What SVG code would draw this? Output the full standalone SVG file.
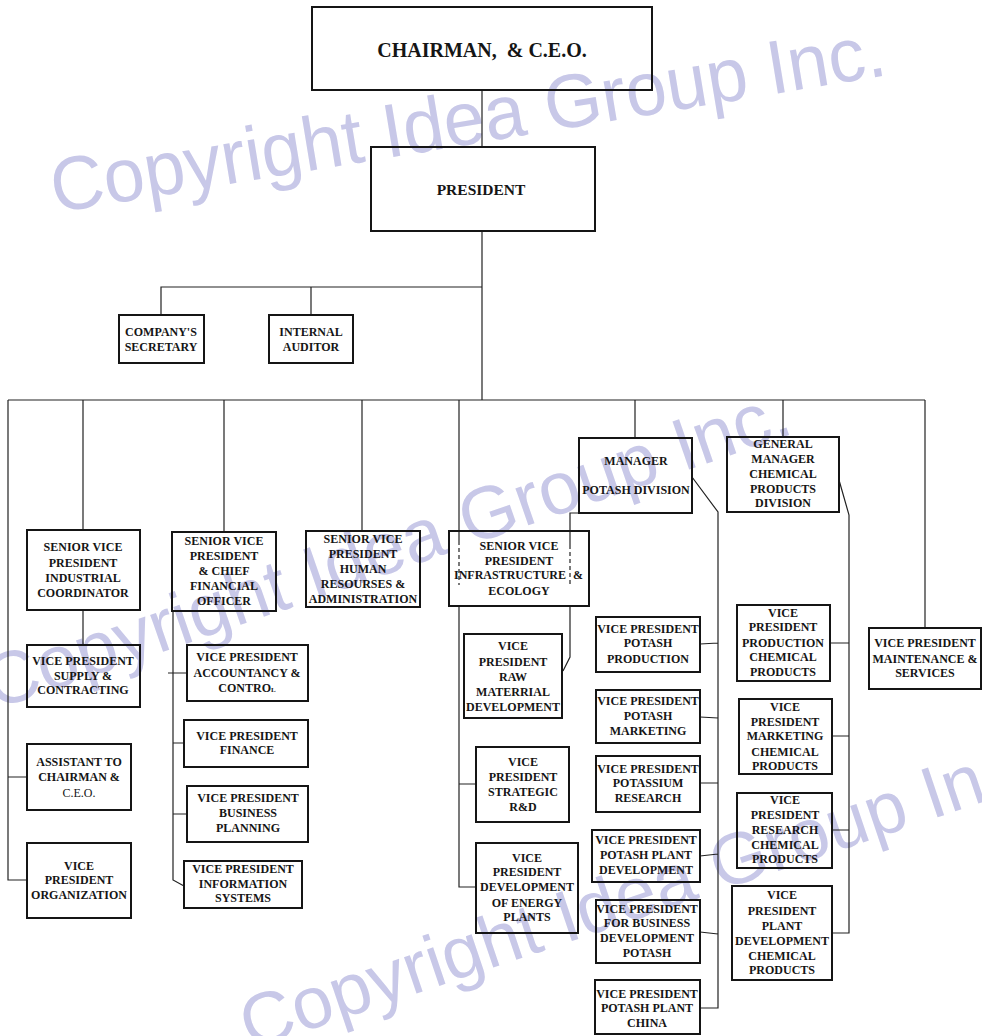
<svg xmlns="http://www.w3.org/2000/svg" width="982" height="1036" viewBox="0 0 982 1036">
<style>
.box{fill:none;stroke:#151515;stroke-width:2}
.ln{fill:none;stroke:#222;stroke-width:1.2}
.dash{stroke-dasharray:4 3}
.t{font-family:"Liberation Serif","Times New Roman",serif;font-weight:bold;font-size:12px;fill:#151515;text-anchor:middle}
.big{font-size:20px}
.mid{font-size:15.5px}
.wm{font-family:"Liberation Sans",Arial,sans-serif;fill:#c8c8e8}
</style>
<rect width="982" height="1036" fill="#fff"/>
<g id="watermark">
<text class="wm" x="55" y="213" font-size="76" textLength="845" lengthAdjust="spacingAndGlyphs" transform="rotate(-9.4 55 213)">Copyright Idea Group Inc.</text>
<text class="wm" x="-5" y="710" font-size="74" textLength="847" lengthAdjust="spacingAndGlyphs" transform="rotate(-19.1 -5 710)">Copyright Idea Group Inc.</text>
<text class="wm" x="250" y="1050" font-size="73" textLength="837" lengthAdjust="spacingAndGlyphs" transform="rotate(-18.7 250 1050)">Copyright Idea Group Inc.</text>
</g>
<g id="connectors">
<path class="ln" d="M482 90V147M482 231V400M161 315V287H482M311 287V315"/>
<path class="ln" d="M8 400H925M8 400V880H27M8 777H27M83 400V530M83 610V645"/>
<path class="ln" d="M224 400V532M173 611V880L184 886M168 673H187M173 743H184M173 814H187"/>
<path class="ln" d="M362 400V531"/>
<path class="ln" d="M459 400V541M459 606V887H476M459 784H476"/>
<path class="ln dash" d="M459 541V585M570 545V585"/>
<path class="ln" d="M580 513H570V545M570 606V657L563 671"/>
<path class="ln" d="M635 400V438M692 477L718 512V1008H700M700 644L718 643M700 717L718 718M700 783H718M700 856L718 854M700 932L718 934"/>
<path class="ln" d="M783 400V437M839 480L849 515V933H832M830 643H849M832 736H849M832 830H849"/>
<path class="ln" d="M925 400V628"/>
</g>
<g id="chairman"><rect class="box" x="312" y="7" width="340" height="83"/><text class="t big" x="482" y="57" xml:space="preserve">CHAIRMAN,  &amp; C.E.O.</text></g>
<g id="president"><rect class="box" x="371" y="147" width="224" height="84"/><text class="t mid" x="481" y="195">PRESIDENT</text></g>
<g id="secretary"><rect class="box" x="119" y="315" width="85" height="48"/><text class="t"><tspan x="161" y="336">COMPANY'S</tspan><tspan x="161" y="351">SECRETARY</tspan></text></g>
<g id="auditor"><rect class="box" x="269" y="315" width="84" height="48"/><text class="t"><tspan x="311" y="336">INTERNAL</tspan><tspan x="311" y="351">AUDITOR</tspan></text></g>
<g id="svp_industrial"><rect class="box" x="27" y="530" width="113" height="80"/><text class="t"><tspan x="83" y="551">SENIOR VICE</tspan><tspan x="83" y="567">PRESIDENT</tspan><tspan x="83" y="582">INDUSTRIAL</tspan><tspan x="83" y="597">COORDINATOR</tspan></text></g>
<g id="svp_cfo"><rect class="box" x="172" y="532" width="104" height="79"/><text class="t"><tspan x="224" y="545">SENIOR VICE</tspan><tspan x="224" y="560">PRESIDENT</tspan><tspan x="224" y="575">&amp; CHIEF</tspan><tspan x="224" y="590">FINANCIAL</tspan><tspan x="224" y="605">OFFICER</tspan></text></g>
<g id="svp_hr"><rect class="box" x="306" y="531" width="114" height="76"/><text class="t"><tspan x="363" y="543">SENIOR VICE</tspan><tspan x="363" y="558">PRESIDENT</tspan><tspan x="363" y="573">HUMAN</tspan><tspan x="363" y="588">RESOURSES &amp;</tspan><tspan x="363" y="603">ADMINISTRATION</tspan></text></g>
<g id="svp_infrastructure"><rect class="box" x="449" y="531" width="140" height="75"/><text class="t"><tspan x="519" y="550">SENIOR VICE</tspan><tspan x="519" y="565">PRESIDENT</tspan><tspan x="510" y="579">INFRASTRUCTURE</tspan><tspan x="519" y="595">ECOLOGY</tspan></text><text class="t" x="578" y="579">&amp;</text></g>
<g id="mgr_potash"><rect class="box" x="579" y="438" width="113" height="75"/><text class="t"><tspan x="636" y="465">MANAGER</tspan><tspan x="636" y="494">POTASH DIVISION</tspan></text></g>
<g id="gm_chemical"><rect class="box" x="727" y="437" width="112" height="75"/><text class="t"><tspan x="783" y="448">GENERAL</tspan><tspan x="783" y="463">MANAGER</tspan><tspan x="783" y="478">CHEMICAL</tspan><tspan x="783" y="493">PRODUCTS</tspan><tspan x="783" y="507">DIVISION</tspan></text></g>
<g id="vp_maintenance"><rect class="box" x="869" y="628" width="112" height="61"/><text class="t"><tspan x="925" y="647">VICE PRESIDENT</tspan><tspan x="925" y="663">MAINTENANCE &amp;</tspan><tspan x="925" y="677">SERVICES</tspan></text></g>
<g id="vp_supply"><rect class="box" x="27" y="645" width="113" height="62"/><text class="t"><tspan x="83" y="665">VICE PRESIDENT</tspan><tspan x="83" y="680">SUPPLY &amp;</tspan><tspan x="83" y="694">CONTRACTING</tspan></text></g>
<g id="assistant"><rect class="box" x="27" y="744" width="104" height="66"/><text class="t"><tspan x="79" y="766">ASSISTANT TO</tspan><tspan x="79" y="781">CHAIRMAN &amp;</tspan><tspan x="79" y="797" font-weight="normal">C.E.O.</tspan></text></g>
<g id="vp_organization"><rect class="box" x="27" y="843" width="104" height="75"/><text class="t"><tspan x="79" y="870">VICE</tspan><tspan x="79" y="884">PRESIDENT</tspan><tspan x="79" y="899">ORGANIZATION</tspan></text></g>
<g id="vp_accountancy"><rect class="box" x="187" y="645" width="121" height="56"/><text class="t"><tspan x="247" y="661">VICE PRESIDENT</tspan><tspan x="247" y="677">ACCOUNTANCY &amp;</tspan><tspan x="247" y="692">CONTRO<tspan style="font-size:7px">L</tspan></tspan></text></g>
<g id="vp_finance"><rect class="box" x="184" y="720" width="124" height="47"/><text class="t"><tspan x="247" y="740">VICE PRESIDENT</tspan><tspan x="247" y="754">FINANCE</tspan></text></g>
<g id="vp_business_planning"><rect class="box" x="187" y="786" width="121" height="56"/><text class="t"><tspan x="248" y="802">VICE PRESIDENT</tspan><tspan x="248" y="817">BUSINESS</tspan><tspan x="248" y="832">PLANNING</tspan></text></g>
<g id="vp_information"><rect class="box" x="184" y="861" width="118" height="47"/><text class="t"><tspan x="243" y="873">VICE PRESIDENT</tspan><tspan x="243" y="888">INFORMATION</tspan><tspan x="243" y="902">SYSTEMS</tspan></text></g>
<g id="vp_raw"><rect class="box" x="464" y="634" width="98" height="84"/><text class="t"><tspan x="513" y="650">VICE</tspan><tspan x="513" y="666">PRESIDENT</tspan><tspan x="513" y="681">RAW</tspan><tspan x="513" y="696">MATERRIAL</tspan><tspan x="513" y="711">DEVELOPMENT</tspan></text></g>
<g id="vp_strategic"><rect class="box" x="476" y="747" width="93" height="75"/><text class="t"><tspan x="523" y="766">VICE</tspan><tspan x="523" y="781">PRESIDENT</tspan><tspan x="523" y="796">STRATEGIC</tspan><tspan x="523" y="811">R&amp;D</tspan></text></g>
<g id="vp_energy"><rect class="box" x="476" y="843" width="102" height="90"/><text class="t"><tspan x="527" y="862">VICE</tspan><tspan x="527" y="876">PRESIDENT</tspan><tspan x="527" y="891">DEVELOPMENT</tspan><tspan x="527" y="907">OF ENERGY</tspan><tspan x="527" y="921">PLANTS</tspan></text></g>
<g id="vp_potash_production"><rect class="box" x="596" y="617" width="104" height="55"/><text class="t"><tspan x="648" y="633">VICE PRESIDENT</tspan><tspan x="648" y="647">POTASH</tspan><tspan x="648" y="663">PRODUCTION</tspan></text></g>
<g id="vp_potash_marketing"><rect class="box" x="596" y="690" width="104" height="53"/><text class="t"><tspan x="648" y="705">VICE PRESIDENT</tspan><tspan x="648" y="720">POTASH</tspan><tspan x="648" y="735">MARKETING</tspan></text></g>
<g id="vp_potassium_research"><rect class="box" x="596" y="756" width="104" height="56"/><text class="t"><tspan x="648" y="773">VICE PRESIDENT</tspan><tspan x="648" y="787">POTASSIUM</tspan><tspan x="648" y="802">RESEARCH</tspan></text></g>
<g id="vp_potash_plant_dev"><rect class="box" x="592" y="830" width="108" height="52"/><text class="t"><tspan x="646" y="844">VICE PRESIDENT</tspan><tspan x="646" y="859">POTASH PLANT</tspan><tspan x="646" y="874">DEVELOPMENT</tspan></text></g>
<g id="vp_business_dev"><rect class="box" x="596" y="900" width="104" height="63"/><text class="t"><tspan x="647" y="913">VICE PRESIDENT</tspan><tspan x="647" y="927">FOR BUSINESS</tspan><tspan x="647" y="942">DEVELOPMENT</tspan><tspan x="647" y="957">POTASH</tspan></text></g>
<g id="vp_china"><rect class="box" x="595" y="980" width="105" height="54"/><text class="t"><tspan x="647" y="998">VICE PRESIDENT</tspan><tspan x="647" y="1012">POTASH PLANT</tspan><tspan x="647" y="1027">CHINA</tspan></text></g>
<g id="vp_chem_production"><rect class="box" x="737" y="605" width="93" height="76"/><text class="t"><tspan x="783" y="617">VICE</tspan><tspan x="783" y="631">PRESIDENT</tspan><tspan x="783" y="647">PRODUCTION</tspan><tspan x="783" y="661">CHEMICAL</tspan><tspan x="783" y="676">PRODUCTS</tspan></text></g>
<g id="vp_chem_marketing"><rect class="box" x="739" y="699" width="93" height="75"/><text class="t"><tspan x="785" y="711">VICE</tspan><tspan x="785" y="726">PRESIDENT</tspan><tspan x="785" y="740">MARKETING</tspan><tspan x="785" y="756">CHEMICAL</tspan><tspan x="785" y="770">PRODUCTS</tspan></text></g>
<g id="vp_chem_research"><rect class="box" x="737" y="793" width="95" height="75"/><text class="t"><tspan x="785" y="804">VICE</tspan><tspan x="785" y="819">PRESIDENT</tspan><tspan x="785" y="834">RESEARCH</tspan><tspan x="785" y="849">CHEMICAL</tspan><tspan x="785" y="863">PRODUCTS</tspan></text></g>
<g id="vp_chem_plant_dev"><rect class="box" x="732" y="886" width="100" height="94"/><text class="t"><tspan x="782" y="899">VICE</tspan><tspan x="782" y="915">PRESIDENT</tspan><tspan x="782" y="930">PLANT</tspan><tspan x="782" y="945">DEVELOPMENT</tspan><tspan x="782" y="960">CHEMICAL</tspan><tspan x="782" y="974">PRODUCTS</tspan></text></g>
</svg>
